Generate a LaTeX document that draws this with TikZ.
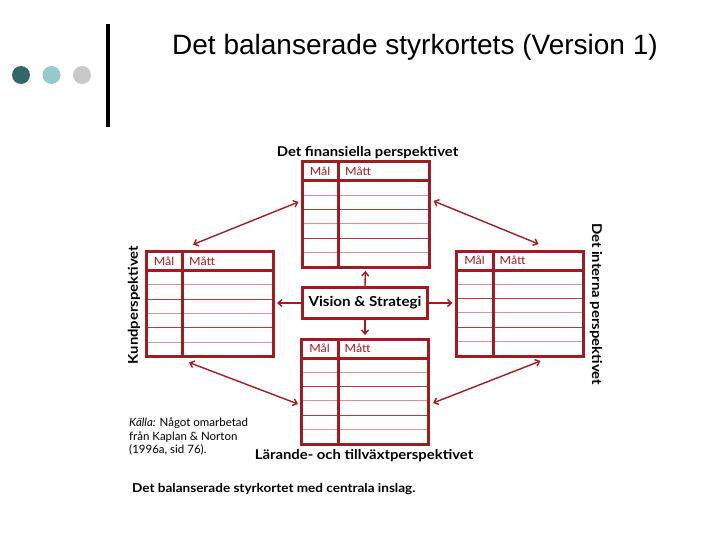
\documentclass[tikz,border=0pt]{standalone}
\usepackage{fontspec}
\setmainfont{Lato}
\newfontfamily\gillf{Lato}[FakeStretch=1.1]
\newfontfamily\arialf{Liberation Sans}
\usetikzlibrary{arrows.meta,calc}
\definecolor{bsred}{RGB}{160,28,34}
\definecolor{bsrow}{RGB}{178,60,64}
\definecolor{bslight}{RGB}{214,150,152}
\definecolor{dotA}{RGB}{51,102,107}
\definecolor{dotB}{RGB}{150,201,206}
\definecolor{dotC}{RGB}{200,200,200}
\tikzset{
  tbl/.style={draw=bsred,line width=3pt,minimum width=127pt,minimum height=105pt,inner sep=0pt,outer sep=0pt},
  rowdark/.style={draw=bsrow,line width=1pt},
  rowlight/.style={draw=bslight,line width=1pt},
  thickline/.style={draw=bsred,line width=3pt},
  hdr/.style={text=bsred,font=\gillf\fontsize{11.3}{13}\selectfont,inner sep=0pt},
  lbl/.style={font=\gillf\fontsize{13.5}{15}\selectfont\bfseries,inner sep=0pt},
  conn/.style={draw=bsred,line width=1.4pt,{Straight Barb[length=4pt,width=7pt]}-{Straight Barb[length=4pt,width=7pt]}},
  oneway/.style={draw=bsred,line width=1.4pt,-{Straight Barb[length=4pt,width=7pt]}},
  visbox/.style={draw=bsred,line width=3pt,minimum width=125pt,minimum height=31pt,inner sep=0pt,font=\gillf\fontsize{13.8}{15}\selectfont\bfseries},
  dot/.style={circle,minimum size=18pt,inner sep=0pt}
}
\newcommand\bstable[3]{%
  \node[tbl,anchor=north west] (#1) at (#2,#3) {};
  \begin{scope}[shift={(#1.north west)}]
    \foreach \k in {1,3,5} \draw[rowlight] (1.5,19+14.33*\k) -- (125.5,19+14.33*\k);
    \foreach \k in {2,4} \draw[rowdark] (1.5,19+14.33*\k) -- (125.5,19+14.33*\k);
    \draw[thickline] (0,19) -- (127,19);
    \draw[thickline] (36.5,19) -- (36.5,105);
    \draw[thickline] (36.5,0) -- (36.5,19);
    \node[hdr] at (18,9.5) {Mål};
    \node[hdr,anchor=west] at (43,9.5) {Mått};
  \end{scope}}
\begin{document}
\begin{tikzpicture}[x=1pt,y=-1pt]
\useasboundingbox (0,0) rectangle (720,540);
% header decoration
\node[dot,fill=dotA] (d1) at (21,75) {};
\node[dot,fill=dotB] (d2) at (51.5,75) {};
\node[dot,fill=dotC] (d3) at (82,75) {};
\coordinate (vt) at (108,24);
\coordinate (vb) at (108,127);
\draw[line width=4pt] (vt) -- (vb);
\node[anchor=west,inner sep=0pt,font=\arialf\fontsize{28}{32}\selectfont] (title) at (172,47.5) {Det balanserade styrkortets (Version 1)};
% tables
\bstable{fin}{302}{162}
\bstable{kund}{146}{251.5}
\bstable{intern}{456.5}{251}
\bstable{lar}{301.5}{339}
\node[visbox] (vis) at (365,303) {Vision \& Strategi};
% labels
\node[lbl] (lfin) at (367.5,152.5) {Det finansiella perspektivet};
\node[lbl,rotate=90] (lkund) at (134,305) {Kundperspektivet};
\node[lbl,rotate=-90] (lint) at (596,304) {Det interna perspektivet};
\node[lbl] (llar) at (364,456) {Lärande- och tillväxtperspektivet};
\node[lbl,anchor=west,font=\gillf\fontsize{12.3}{14}\selectfont\bfseries] (cap) at (132,489) {Det balanserade styrkortet med centrala inslag.};
\node[anchor=north west,inner sep=0pt,align=left,font=\fontsize{11.5}{13.5}\selectfont] (src) at (129,418) {\textit{Källa:} Något omarbetad\\från Kaplan \& Norton\\(1996a, sid 76).};
% arrows from vision
\draw[oneway,shorten >=4pt] (vis.north) -- (fin.south);
\draw[oneway,shorten >=4pt] (vis.south) -- (lar.north);
\draw[oneway,shorten >=4pt] (vis.west) -- (vis.west -| kund.east);
\draw[oneway,shorten >=4pt] (vis.east) -- (vis.east -| intern.west);
% diagonal arrows
\draw[conn] ([shift={(47,-7)}]kund.north west) -- ([shift={(-3.5,40)}]fin.north west);
\draw[conn] ([shift={(4.5,39)}]fin.north east) -- ([shift={(82,-7)}]intern.north west);
\draw[conn] ([shift={(43,6)}]kund.south west) -- ([shift={(-3.5,65)}]lar.north west);
\draw[conn] ([shift={(84,5)}]intern.south west) -- ([shift={(4.5,64)}]lar.north east);
\end{tikzpicture}
\end{document}
